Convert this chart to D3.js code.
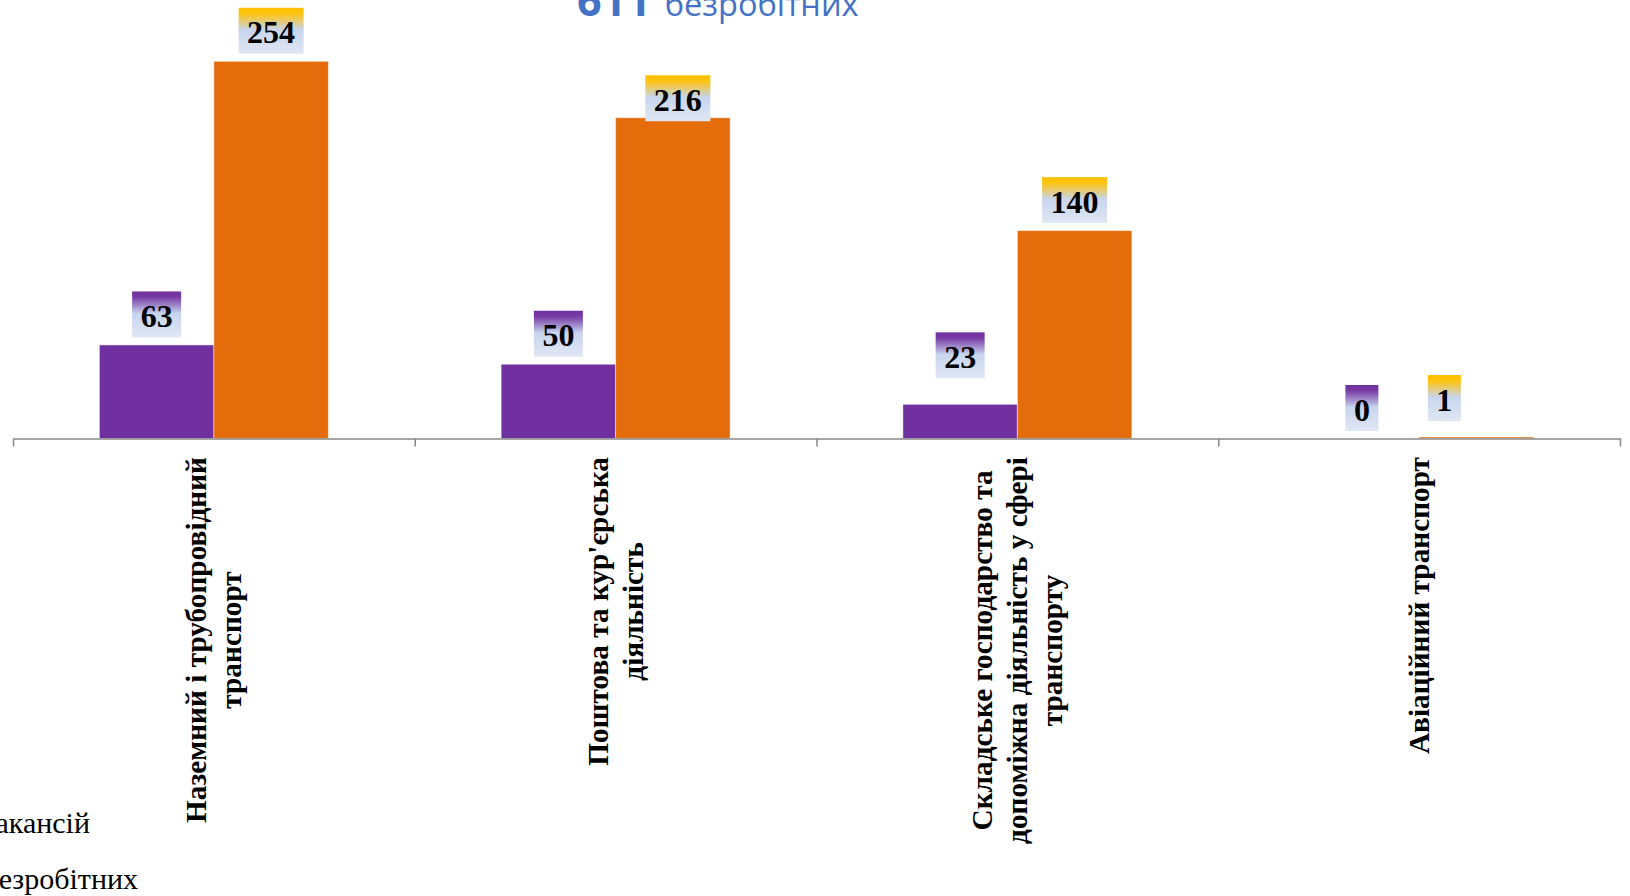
<!DOCTYPE html>
<html><head><meta charset="utf-8">
<script src="https://cdn.jsdelivr.net/npm/d3@7"></script>
<style>
html,body{margin:0;padding:0;background:#fff;overflow:hidden;}
svg{display:block;}
</style></head>
<body>
<svg id="chart" width="1630" height="896"></svg>
<script>
// ---- data ----
const categories = [
  "Наземний і трубопровідний транспорт",
  "Поштова та кур'єрська діяльність",
  "Складське господарство та допоміжна діяльність у сфері транспорту",
  "Авіаційний транспорт"
];
const categoryLines = [
  ["Наземний і трубопровідний", "транспорт"],
  ["Поштова та кур'єрська", "діяльність"],
  ["Складське господарство та", "допоміжна діяльність у сфері", "транспорту"],
  ["Авіаційний транспорт"]
];
const seriesNames = ["Кількість вакансій", "Кількість безробітних"];
const vacancies = [63, 50, 23, 0];
const unemployed = [254, 216, 140, 1];
const titleNumber = "611";
const titleText = "безробітних";

// ---- layout / style (not data) ----
const colors = ["#7030A0", "#E46C0A"];
const labelTopColors = ["#7030A0", "#FFC000"];
// manual label nudges (dx, dy) as placed in the original
const labelNudge = [
  [[0,0],[0,0],[0,-18.5],[0,0]],
  [[0,0],[5,11],[0,0],[-32,-8.5]]
];

const svg = d3.select("#chart");
const axisY = 438.5;
const x0 = d3.scaleBand().domain(categories).range([13, 1620]).padding(0);
const bw = x0.bandwidth();
const x1 = d3.scaleBand().domain(seriesNames).range([86.4, bw - 86.4]).padding(0);
const y = d3.scaleLinear().domain([0, 300]).range([axisY, axisY - 300 * 1.485]);

// gradients
const defs = svg.append("defs");
labelTopColors.forEach((c, i) => {
  const g = defs.append("linearGradient").attr("id", "lg" + i)
    .attr("x1", 0).attr("y1", 0).attr("x2", 0).attr("y2", 1);
  g.append("stop").attr("offset", "0%").attr("stop-color", c);
  g.append("stop").attr("offset", "12%").attr("stop-color", c).attr("stop-opacity", 0.95);
  g.append("stop").attr("offset", "48%").attr("stop-color", "#C7D5EE");
  g.append("stop").attr("offset", "100%").attr("stop-color", "#E0E7F4");
});

// title (partly cut off at top, as in the original)
const title = svg.append("text").attr("x", 577).attr("y", 15.5)
  .attr("font-family", "'Open Sans', 'Noto Sans', sans-serif").attr("fill", "#4472C4");
title.append("tspan").attr("font-weight", "bold").attr("font-size", 43).text(titleNumber);
title.append("tspan").attr("font-size", 32.5).attr("dx", 14).text(titleText);

// bars
const seriesData = [vacancies, unemployed];
seriesData.forEach((vals, si) => {
  svg.append("g").selectAll("rect").data(vals).join("rect")
    .attr("x", (d, i) => x0(categories[i]) + x1(seriesNames[si]))
    .attr("y", d => y(d))
    .attr("width", x1.bandwidth())
    .attr("height", d => Math.max(0, y(0) - y(d)))
    .attr("fill", colors[si])
    .attr("stroke", "rgba(255,255,255,0.45)")
    .attr("stroke-width", 1);
});

// axis
const xt = d3.scaleLinear().domain([0, categories.length]).range([13, 1620]);
const axis = svg.append("g").attr("transform", `translate(0,${axisY})`)
  .call(d3.axisBottom(xt).ticks(categories.length).tickFormat("").tickSizeInner(8).tickSizeOuter(0));
axis.selectAll("path,line").attr("stroke", "#888").attr("stroke-width", 1.5);

// data labels
seriesData.forEach((vals, si) => {
  vals.forEach((v, i) => {
    const txt = String(v);
    const w = txt.length * 16 + 17;
    const h = 46;
    const cx = x0(categories[i]) + x1(seriesNames[si]) + x1.bandwidth() / 2 + labelNudge[si][i][0];
    const bottom = y(v) - 7.5 + labelNudge[si][i][1];
    svg.append("rect").attr("x", cx - w / 2).attr("y", bottom - h).attr("width", w).attr("height", h)
      .attr("fill", `url(#lg${si})`);
    svg.append("text").attr("x", cx).attr("y", bottom - h + 35.5)
      .attr("text-anchor", "middle").attr("font-family", "'Liberation Serif', 'Times New Roman', serif")
      .attr("font-weight", "bold").attr("font-size", 32).attr("fill", "#000").text(txt);
  });
});

// category labels (rotated)
const catFont = 29.3, lineH = 35;
categoryLines.forEach((lines, i) => {
  const cx = x0(categories[i]) + bw / 2;
  const g = svg.append("g").attr("transform", `translate(${cx},457) rotate(-90)`);
  const texts = lines.map((ln, k) => g.append("text")
    .attr("font-family", "'Liberation Serif', 'Times New Roman', serif")
    .attr("font-weight", "bold").attr("font-size", catFont).attr("fill", "#000")
    .attr("text-anchor", "middle")
    .attr("y", (k - (lines.length - 1) / 2) * lineH + catFont * 0.33)
    .text(ln));
  const maxW = d3.max(texts, t => t.node().getComputedTextLength());
  texts.forEach(t => t.attr("x", -maxW / 2));
});

// legend (mostly outside the visible area on the left, as in the original)
const legY = [833, 888.5];
const legEnd = [90, 138];
seriesNames.forEach((name, i) => {
  const t = svg.append("text").attr("x", legEnd[i]).attr("y", legY[i])
    .attr("text-anchor", "end").attr("font-family", "'Liberation Serif', 'Times New Roman', serif")
    .attr("font-size", 30).attr("fill", "#000").text(name);
  const bb = t.node().getBBox();
  svg.append("rect").attr("x", bb.x - 30).attr("y", legY[i] - 18).attr("width", 18).attr("height", 18)
    .attr("fill", colors[i]);
});
</script>
</body></html>
